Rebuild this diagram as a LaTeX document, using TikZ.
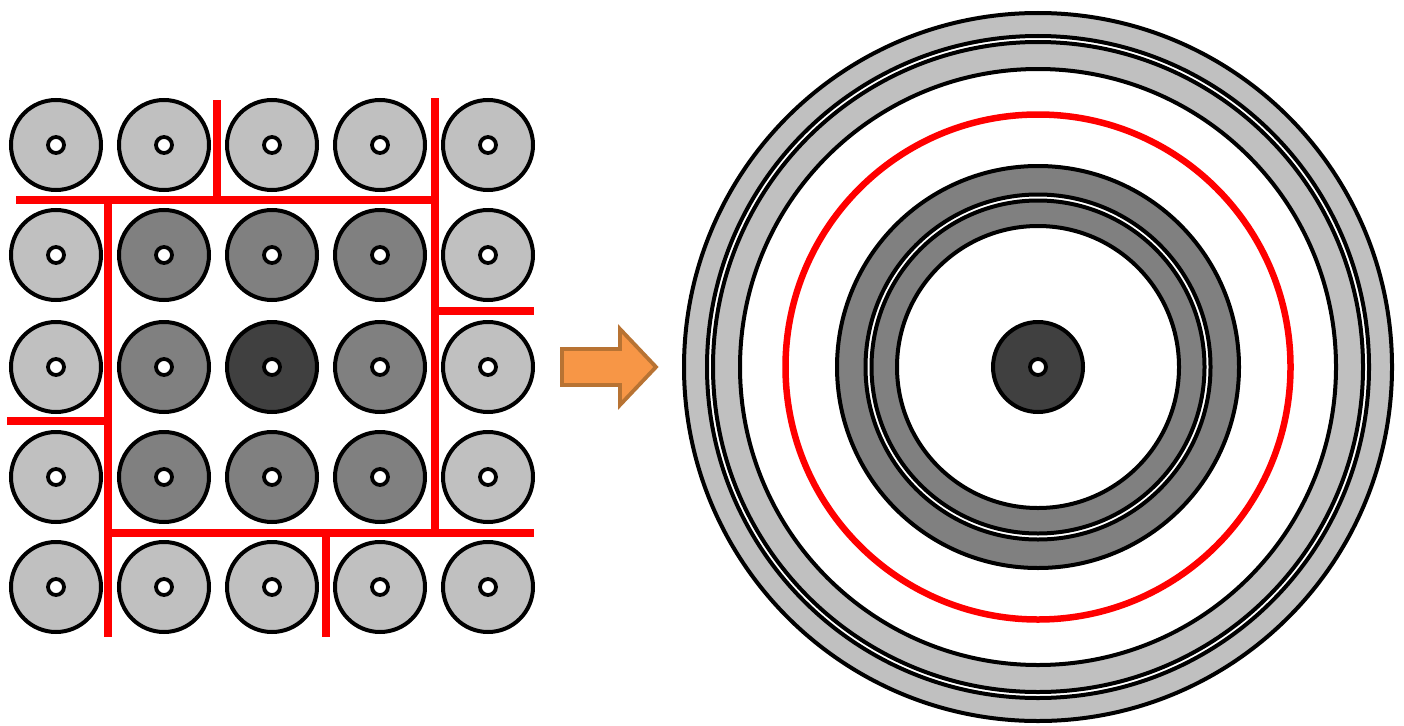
\documentclass[tikz,border=0pt]{standalone}
\definecolor{lg}{HTML}{C0C0C0}
\definecolor{mg}{HTML}{808080}
\definecolor{dg}{HTML}{404040}
\definecolor{orf}{HTML}{F79646}
\definecolor{ors}{HTML}{B87333}
\tikzset{
  pin/.style={circle,draw=black,line width=4pt,minimum size=90pt,inner sep=0pt},
  hole/.style={circle,draw=black,fill=white,line width=3.8pt,minimum size=16pt,inner sep=0pt},
  wall/.style={draw=red,line width=8pt},
  ringline/.style={draw=black,line width=4pt},
  blockarrow/.style={draw=ors,fill=orf,line width=3.8pt,line join=miter},
}
\begin{document}
\begin{tikzpicture}[x=1pt,y=-1pt]
\useasboundingbox (0,0) rectangle (1404,725);
% left grid
\foreach \i/\x in {1/56,2/164,3/272,4/380,5/488}{
  \foreach \j/\y in {1/145,2/255,3/367,4/477,5/587}{
    \pgfmathtruncatemacro{\inner}{(\i>1)&&(\i<5)&&(\j>1)&&(\j<5)}
    \pgfmathtruncatemacro{\ctr}{(\i==3)&&(\j==3)}
    \ifnum\ctr=1 \def\fc{dg}\else\ifnum\inner=1 \def\fc{mg}\else\def\fc{lg}\fi\fi
    \node[pin,fill=\fc] (p\i\j) at (\x,\y) {};
    \node[hole] (h\i\j) at (p\i\j.center) {};
  }
}
% red walls
\coordinate (a1) at (16,200); \coordinate (a2) at (439,200);
\coordinate (b1) at (217,100); \coordinate (b2) at (217,200);
\coordinate (c1) at (435,98); \coordinate (c2) at (435,536);
\coordinate (d1) at (108,197); \coordinate (d2) at (108,637);
\coordinate (e1) at (7,421); \coordinate (e2) at (108,421);
\coordinate (f1) at (435,311); \coordinate (f2) at (534,311);
\coordinate (g1) at (108,533); \coordinate (g2) at (534,533);
\coordinate (k1) at (326,533); \coordinate (k2) at (326,637);
\foreach \s in {a,b,c,d,e,f,g,k}{\draw[wall] (\s1) -- (\s2);}
% arrow
\draw[blockarrow] (562,349) -- (620,349) -- (620,329) -- (656,367) -- (620,405)
  -- (620,385) -- (562,385) -- cycle;
% right rings
\coordinate (c) at (1038,367);
\fill[lg,even odd rule] (c) circle (354) (c) circle (331);
\fill[lg,even odd rule] (c) circle (325) (c) circle (298);
\fill[mg,even odd rule] (c) circle (201) (c) circle (172.5);
\fill[mg,even odd rule] (c) circle (166.5) (c) circle (141);
\foreach \r in {354,331,325,298,201,172.5,166.5,141}{\draw[ringline] (c) circle (\r);}
\draw[red,line width=6.5pt] (c) circle (252.5);
\node[pin,fill=dg] (core) at (c) {};
\node[hole] (coreh) at (c) {};
\end{tikzpicture}
\end{document}
